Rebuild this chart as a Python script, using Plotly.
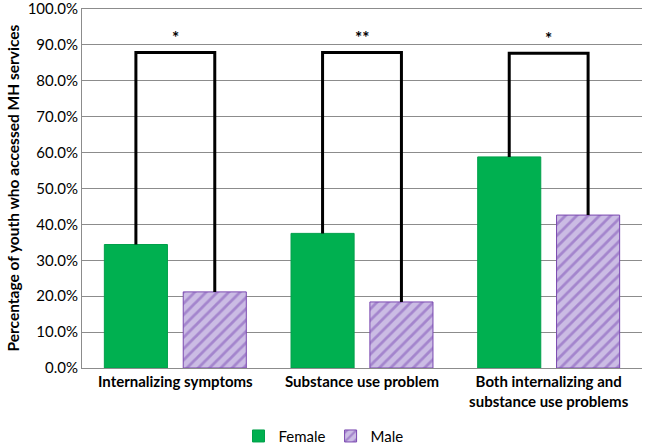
import plotly.graph_objects as go

categories = ["Internalizing symptoms", "Substance use problem", "Both internalizing and<br>substance use problems"]
female = [0.344, 0.375, 0.588]
male = [0.212, 0.184, 0.426]
bracket_top = [0.879, 0.879, 0.877]
sig_labels = ["*", "**", "*"]
yticks = [i / 10 for i in range(11)]

FONT = "Lato, 'Open Sans', sans-serif"
bargap = 0.155
bargroupgap = 0.2
xs = list(range(len(categories)))
# center offset of each bar within the group (category units)
off = (1 - bargap) / 4

fig = go.Figure()
fig.add_trace(go.Bar(
    x=xs, y=female, name="Female",
    marker=dict(color="#00B050", line=dict(color="#00A04A", width=1)),
))
fig.add_trace(go.Bar(
    x=xs, y=male, name="Male",
    marker=dict(color="#C3B3DE", line=dict(color="#7A48B0", width=1),
                pattern=dict(shape="/", fgcolor="#7D4EB5", bgcolor="#CBBCE4", size=8, solidity=0.35)),
))

for i in xs:
    fig.add_trace(go.Scatter(
        x=[i - off, i - off, i + off, i + off],
        y=[female[i], bracket_top[i], bracket_top[i], male[i]],
        mode="lines", line=dict(color="black", width=3),
        showlegend=False, hoverinfo="skip", cliponaxis=False,
    ))
    fig.add_annotation(x=i, y=bracket_top[i], text=f"<b>{sig_labels[i]}</b>", showarrow=False,
                       yanchor="bottom", yshift=2, font=dict(size=17, color="black", family=FONT))

fig.add_annotation(xref="paper", yref="paper", x=-0.125, y=0.5, textangle=-90,
                   text="<b>Percentage of youth who accessed MH services</b>", showarrow=False,
                   font=dict(size=15.5, color="black", family=FONT), xanchor="center", yanchor="middle")

fig.update_layout(
    width=647, height=447,
    margin=dict(l=82, r=5, t=9, b=79, autoexpand=False),
    paper_bgcolor="white", plot_bgcolor="white",
    barmode="group", bargap=bargap, bargroupgap=bargroupgap,
    font=dict(family=FONT, size=15, color="black"),
    showlegend=True,
    legend=dict(orientation="h", xref="container", x=0.5, xanchor="center", y=-0.19, yanchor="middle",
                font=dict(size=15, family=FONT), itemwidth=30, traceorder="normal"),
    xaxis=dict(range=[-0.5, 2.5], tickmode="array", tickvals=xs,
               ticktext=[f"<b>{c}</b>" for c in categories], automargin=False,
               showgrid=False, showline=True, mirror=True, linecolor="#8c8c8c", linewidth=1,
               ticks="", tickfont=dict(size=15, family=FONT), zeroline=False),
    yaxis=dict(range=[0, 1.0], tickmode="array", tickvals=yticks, tickformat=".1%",
               automargin=False, ticklabeloverflow="allow",
               showgrid=True, gridcolor="#8c8c8c", gridwidth=1,
               showline=True, linecolor="#8c8c8c", linewidth=1, ticks="",
               tickfont=dict(size=15, family=FONT), zeroline=False),
)

fig.write_html("out.html", config={"displayModeBar": False},
               post_script="document.body.style.margin='0';document.body.style.padding='0';")
